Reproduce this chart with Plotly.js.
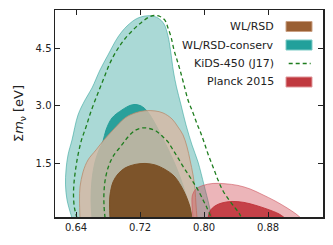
<!DOCTYPE html>
<html>
<head>
<meta charset="utf-8">
<script src="https://cdn.plot.ly/plotly-3.0.1.min.js"></script>
<style>html,body{margin:0;padding:0;background:#fff;}#chart{width:333px;height:245px;}</style>
</head>
<body>
<div id="chart"></div>
<script>
// ---- data ----
const conservOuterX = [0.635, 0.6288, 0.6269, 0.6275, 0.630, 0.635, 0.6425, 0.6513, 0.660, 0.670, 0.680, 0.6925, 0.7038, 0.7175, 0.7325, 0.7425, 0.750, 0.755, 0.7581, 0.7619, 0.7656, 0.7713, 0.7775, 0.785, 0.7925, 0.800, 0.8063, 0.810];
const conservOuterY = [0.06, 0.536, 0.928, 1.320, 1.712, 2.104, 2.757, 3.149, 3.463, 3.933, 4.325, 4.795, 5.082, 5.291, 5.352, 5.291, 5.135, 4.821, 4.455, 3.880, 3.489, 3.018, 2.496, 1.973, 1.529, 0.928, 0.405, 0.06];

const conservInnerX = [0.660, 0.6588, 0.660, 0.6638, 0.6688, 0.6738, 0.6775, 0.685, 0.6975, 0.7075, 0.7138, 0.7213, 0.7288, 0.7363, 0.745, 0.7538, 0.7625, 0.770, 0.7775, 0.7825, 0.785];
const conservInnerY = [0.06, 0.536, 1.059, 1.529, 1.842, 2.078, 2.365, 2.679, 2.888, 3.005, 3.031, 2.992, 2.862, 2.626, 2.287, 1.921, 1.529, 1.137, 0.667, 0.275, 0.06];

const wlOuterX = [0.645, 0.6444, 0.645, 0.6488, 0.655, 0.665, 0.675, 0.6863, 0.7013, 0.7138, 0.7263, 0.7388, 0.7488, 0.760, 0.7675, 0.7738, 0.7788, 0.7825, 0.7863, 0.7888, 0.790, 0.7913];
const wlOuterY = [0.06, 0.536, 0.876, 1.268, 1.581, 1.842, 2.104, 2.365, 2.679, 2.809, 2.867, 2.862, 2.809, 2.653, 2.443, 2.234, 1.921, 1.581, 1.189, 0.797, 0.405, 0.06];

const wlInnerX = [0.6825, 0.6819, 0.6825, 0.6863, 0.6925, 0.7013, 0.7138, 0.7263, 0.7388, 0.7513, 0.7625, 0.7713, 0.7775, 0.7825, 0.785];
const wlInnerY = [0.06, 0.405, 0.667, 1.006, 1.215, 1.372, 1.464, 1.490, 1.451, 1.333, 1.163, 0.902, 0.641, 0.353, 0.06];

const planckOuterX = [0.7863, 0.785, 0.7856, 0.790, 0.7988, 0.8113, 0.8263, 0.8425, 0.8575, 0.8725, 0.8888, 0.9038, 0.915, 0.9213];
const planckOuterY = [0.06, 0.405, 0.667, 0.823, 0.915, 0.967, 0.959, 0.915, 0.823, 0.680, 0.510, 0.327, 0.170, 0.06];

const planckInnerX = [0.805, 0.8075, 0.8138, 0.8225, 0.835, 0.850, 0.865, 0.880, 0.8938, 0.9013];
const planckInnerY = [0.06, 0.249, 0.379, 0.458, 0.497, 0.471, 0.392, 0.288, 0.170, 0.06];

const kidsOuterX = [0.6413, 0.6381, 0.6369, 0.6375, 0.6394, 0.6425, 0.6469, 0.6525, 0.6594, 0.6675, 0.675, 0.6825, 0.6913, 0.700, 0.7113, 0.7225, 0.7325, 0.7388, 0.745, 0.7513, 0.755, 0.7588, 0.7625, 0.7663, 0.770, 0.7744, 0.780, 0.7863, 0.7913, 0.795, 0.800, 0.805, 0.8113, 0.8175, 0.8238, 0.8313, 0.8388, 0.8438, 0.8469];
const kidsOuterY = [0.06, 0.327, 0.641, 0.980, 1.320, 1.712, 2.104, 2.443, 2.888, 3.332, 3.724, 4.116, 4.455, 4.717, 4.978, 5.187, 5.331, 5.357, 5.331, 5.226, 5.030, 4.795, 4.455, 4.194, 3.933, 3.593, 3.149, 2.809, 2.522, 2.339, 2.052, 1.738, 1.398, 1.059, 0.771, 0.536, 0.327, 0.196, 0.06];

const kidsInnerX = [0.6763, 0.675, 0.675, 0.6769, 0.6813, 0.6875, 0.6963, 0.705, 0.7138, 0.7225, 0.7313, 0.740, 0.7488, 0.755, 0.7613, 0.7675, 0.7738, 0.780, 0.7863, 0.7925, 0.7988, 0.8038, 0.8094];
const kidsInnerY = [0.06, 0.405, 0.745, 1.111, 1.451, 1.712, 1.947, 2.182, 2.352, 2.417, 2.404, 2.339, 2.182, 2.052, 1.842, 1.633, 1.411, 1.215, 1.006, 0.797, 0.536, 0.327, 0.06];

const xTicks = [0.64, 0.72, 0.80, 0.88];
const xTickText = ['0.64', '0.72', '0.80', '0.88'];
const yTicks = [1.5, 3.0, 4.5];
const yTickText = ['1.5', '3.0', '4.5'];
const legendNames = ['WL/RSD', 'WL/RSD-conserv', 'KiDS-450 (J17)', 'Planck 2015'];

// ---- styles ----
function area(x, y, fill, edge) {
  return {x: x, y: y, type: 'scatter', mode: 'lines', fill: 'toself', fillcolor: fill,
          line: {color: edge, width: 1, shape: 'spline', smoothing: 1}, hoverinfo: 'skip', showlegend: false};
}
function dashed(x, y) {
  return {x: x, y: y, type: 'scatter', mode: 'lines',
          line: {color: '#1e7d1e', width: 1.3, dash: '4px,3px', shape: 'spline', smoothing: 1},
          hoverinfo: 'skip', showlegend: false};
}

const traces = [
  area(conservOuterX, conservOuterY, 'rgba(42,161,152,0.40)', 'rgba(42,161,152,0.55)'),
  area(conservInnerX, conservInnerY, 'rgba(30,155,150,0.92)', 'rgba(30,155,150,0.92)'),
  area(wlOuterX, wlOuterY, 'rgba(214,184,163,0.82)', 'rgba(185,140,110,0.8)'),
  area(wlInnerX, wlInnerY, 'rgba(120,76,32,0.93)', 'rgba(120,76,32,0.93)'),
  area(planckOuterX, planckOuterY, 'rgba(205,60,70,0.38)', 'rgba(205,80,90,0.6)'),
  area(planckInnerX, planckInnerY, 'rgba(190,45,52,0.85)', 'rgba(190,45,52,0.85)'),
  dashed(kidsOuterX, kidsOuterY),
  dashed(kidsInnerX, kidsInnerY)
];

// legend built from annotations + shapes (text left of symbol)
const rowY = [0.9203, 0.8309, 0.7415, 0.6522];
const sw = {x0: 0.862, x1: 0.959, h: 0.0242};
const swFill = ['#9a5f33', '#22a09b', null, '#c0393f'];
const swEdge = ['#caa083', '#7ccbc6', null, '#e0999c'];
const annotations = legendNames.map((t, i) => ({
  xref: 'paper', yref: 'paper', x: 0.8246, y: rowY[i], xanchor: 'right', yanchor: 'middle',
  text: t, showarrow: false, font: {family: 'DejaVu Sans', size: 11, color: '#222'}
}));
const shapes = [];
legendNames.forEach((t, i) => {
  if (swFill[i]) {
    shapes.push({type: 'rect', xref: 'paper', yref: 'paper', x0: sw.x0, x1: sw.x1,
      y0: rowY[i] - sw.h, y1: rowY[i] + sw.h, fillcolor: swFill[i], line: {color: swEdge[i], width: 1}});
  } else {
    shapes.push({type: 'line', xref: 'paper', yref: 'paper', x0: sw.x0 + 0.01, x1: sw.x1 - 0.005,
      y0: rowY[i], y1: rowY[i], line: {color: '#1e7d1e', width: 1.3, dash: '4px,3px'}});
  }
});

const layout = {
  width: 333, height: 245,
  margin: {l: 55, r: 10, t: 10, b: 28, pad: 0},
  paper_bgcolor: '#fff', plot_bgcolor: '#fff',
  font: {family: 'DejaVu Sans', size: 10, color: '#222'},
  xaxis: {range: [0.61375, 0.94875], tickvals: xTicks, ticktext: xTickText,
    ticks: 'inside', ticklen: 5, tickwidth: 1, tickcolor: '#222',
    showline: true, linecolor: '#222', linewidth: 1.5, mirror: 'ticks',
    showgrid: false, zeroline: false, tickfont: {size: 10, color: '#222'}},
  yaxis: {range: [0.09, 5.5], tickvals: yTicks, ticktext: yTickText,
    ticks: 'inside', ticklen: 5, tickwidth: 1, tickcolor: '#222',
    showline: true, linecolor: '#222', linewidth: 1.5, mirror: 'ticks',
    showgrid: false, zeroline: false, tickfont: {size: 10, color: '#222'},
    title: {text: 'Σ<i>m</i><sub>ν</sub> [eV]', font: {size: 13, color: '#222'}, standoff: 9}},
  annotations: annotations,
  shapes: shapes
};

Plotly.newPlot('chart', traces, layout, {displayModeBar: false, staticPlot: true});
</script>
</body>
</html>
